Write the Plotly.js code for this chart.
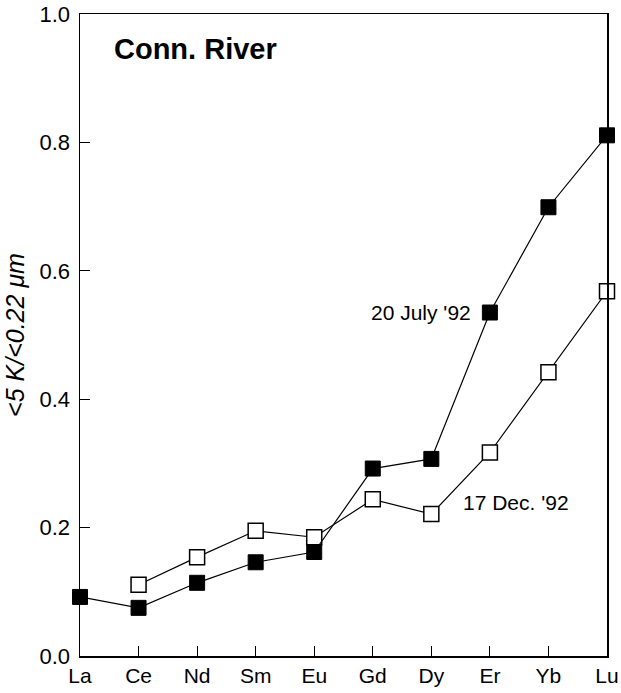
<!DOCTYPE html>
<html>
<head>
<meta charset="utf-8">
<script src="https://cdn.plot.ly/plotly-3.0.1.min.js"></script>
<style>html,body{margin:0;padding:0;background:#fff;}</style>
</head>
<body>
<div id="chart" style="width:621px;height:693px;"></div>
<script>
// Rare earth elements along the x axis
const elements = ["La", "Ce", "Nd", "Sm", "Eu", "Gd", "Dy", "Er", "Yb", "Lu"];
// Ratio <5 K / <0.22 µm, Connecticut River samples
const july92 = [0.092, 0.075, 0.114, 0.146, 0.162, 0.292, 0.307, 0.535, 0.699, 0.811];
const dec92  = [null, 0.111, 0.154, 0.195, 0.185, 0.244, 0.221, 0.317, 0.442, 0.568];
const yTicks = [0.0, 0.2, 0.4, 0.6, 0.8, 1.0];

const font = "Liberation Sans, Arial, Helvetica, sans-serif";
const xIdx = elements.map((_, i) => i);

const traces = [
  {
    x: xIdx, y: dec92, type: "scatter", mode: "lines+markers",
    line: {color: "#000", width: 1.2},
    marker: {symbol: "square", size: 15, color: "#fff", line: {color: "#000", width: 1.5}},
    cliponaxis: false, connectgaps: false, hoverinfo: "skip"
  },
  {
    x: xIdx, y: july92, type: "scatter", mode: "lines+markers",
    line: {color: "#000", width: 1.2},
    marker: {symbol: "square", size: 15, color: "#000", line: {color: "#000", width: 1}},
    cliponaxis: false, hoverinfo: "skip"
  }
];

const layout = {
  width: 621, height: 693,
  margin: {l: 80, r: 14, t: 14, b: 37},
  paper_bgcolor: "#fff", plot_bgcolor: "#fff",
  showlegend: false,
  font: {family: font, size: 21, color: "#000"},
  xaxis: {
    range: [0, 9], tickvals: xIdx, ticktext: elements,
    ticks: "inside", ticklen: 10, tickcolor: "#000", tickwidth: 1,
    showline: true, linecolor: "#000", linewidth: 1.5, mirror: true,
    showgrid: false, zeroline: false, fixedrange: true,
    tickfont: {family: font, size: 21}
  },
  yaxis: {
    range: [0, 1], tickvals: yTicks, ticktext: yTicks.map(v => v.toFixed(1)),
    ticks: "inside", ticklen: 10, tickcolor: "#000", tickwidth: 1,
    showline: true, linecolor: "#000", linewidth: 1.5, mirror: true,
    showgrid: false, zeroline: false, fixedrange: true,
    tickfont: {family: font, size: 22}, ticklabelstandoff: 4,
    title: {text: "<i><5 K/<0.22 μm</i>", font: {family: font, size: 25}, standoff: 8}
  },
  annotations: [
    {xref: "paper", yref: "paper", x: 0.06, y: 0.946, xanchor: "left", yanchor: "middle",
     text: "<b>Conn. River</b>", showarrow: false, font: {family: font, size: 29}},
    {xref: "x", yref: "y", x: 6.72, y: 0.535, xanchor: "right", yanchor: "middle",
     text: "20 July '92", showarrow: false, font: {family: font, size: 21}},
    {xref: "x", yref: "y", x: 6.5, y: 0.239, xanchor: "left", yanchor: "middle",
     text: "17 Dec. '92", showarrow: false, font: {family: font, size: 21}}
  ]
};

Plotly.newPlot("chart", traces, layout, {displayModeBar: false, staticPlot: true});
</script>
</body>
</html>
